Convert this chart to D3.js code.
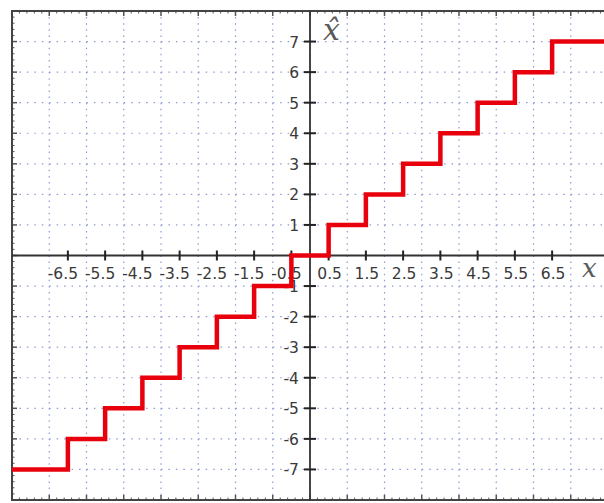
<!DOCTYPE html>
<html><head><meta charset="utf-8">
<script src="https://cdn.jsdelivr.net/npm/d3@7/dist/d3.min.js"></script>
<style>body{margin:0;background:#fff}svg{display:block}</style></head>
<body><svg id="c" width="604" height="503"></svg>
<script>
// ---- data ----
const xTickValues = [-6.5,-5.5,-4.5,-3.5,-2.5,-1.5,-0.5,0.5,1.5,2.5,3.5,4.5,5.5,6.5];
const xTickLabels = ["-6.5","-5.5","-4.5","-3.5","-2.5","-1.5","-0.5","0.5","1.5","2.5","3.5","4.5","5.5","6.5"];
const yTickValues = [-7,-6,-5,-4,-3,-2,-1,1,2,3,4,5,6,7];
const yTickLabels = ["-7","-6","-5","-4","-3","-2","-1","1","2","3","4","5","6","7"];
const gridValues = [-7,-6,-5,-4,-3,-2,-1,0,1,2,3,4,5,6,7];
const stepStarts = [-8,-6.5,-5.5,-4.5,-3.5,-2.5,-1.5,-0.5,0.5,1.5,2.5,3.5,4.5,5.5,6.5];
const stepLevels = [-7,-6,-5,-4,-3,-2,-1,0,1,2,3,4,5,6,7];
const domainEnd = 8;

const svg = d3.select("#c");
const x = d3.scaleLinear().domain([-8, 8]).range([12, 608]);
const y = d3.scaleLinear().domain([-8, 8]).range([500, 11]);
const ux = x(1) - x(0), uy = y(0) - y(1);

// grid
const g = svg.append("g");
g.selectAll(".vg").data(gridValues).enter().append("line")
  .attr("x1", d => x(d)).attr("x2", d => x(d)).attr("y1", y(8)).attr("y2", y(-8))
  .attr("stroke", "#8e9ad6").attr("stroke-width", 1.2)
  .attr("stroke-dasharray", `1.5,${(uy/5 - 1.5).toFixed(2)}`);
g.selectAll(".hg").data(gridValues).enter().append("line")
  .attr("y1", d => y(d)).attr("y2", d => y(d)).attr("x1", x(-8)).attr("x2", x(8))
  .attr("stroke", "#8e9ad6").attr("stroke-width", 1.2)
  .attr("stroke-dasharray", `1.5,${(ux/5 - 1.5).toFixed(2)}`);

// frame ticks
const minor = d3.range(-40, 41).map(i => i / 5);
const isMajor = v => Math.abs(v - Math.round(v)) < 1e-6;
const ft = svg.append("g").attr("stroke", "#555");
ft.selectAll(".tt").data(minor).enter().append("line")
  .attr("x1", d => x(d)).attr("x2", d => x(d)).attr("y1", y(8)).attr("y2", d => y(8) + (isMajor(d) ? 5 : 2.5))
  .attr("stroke-width", d => isMajor(d) ? 1.5 : 1);
ft.selectAll(".bt").data(minor).enter().append("line")
  .attr("x1", d => x(d)).attr("x2", d => x(d)).attr("y1", y(-8)).attr("y2", d => y(-8) - (isMajor(d) ? 5 : 2.5))
  .attr("stroke-width", d => isMajor(d) ? 1.5 : 1);
ft.selectAll(".lt").data(minor).enter().append("line")
  .attr("y1", d => y(d)).attr("y2", d => y(d)).attr("x1", x(-8)).attr("x2", d => x(-8) + (isMajor(d) ? 5 : 2.5))
  .attr("stroke-width", d => isMajor(d) ? 1.5 : 1);

// frame
svg.append("rect").attr("x", x(-8)).attr("y", y(8)).attr("width", x(8) - x(-8)).attr("height", y(-8) - y(8))
  .attr("fill", "none").attr("stroke", "#444").attr("stroke-width", 2);

// axes lines
svg.append("line").attr("x1", x(-8)).attr("x2", x(8)).attr("y1", y(0)).attr("y2", y(0))
  .attr("stroke", "#333").attr("stroke-width", 1.8);
svg.append("line").attr("x1", x(0)).attr("x2", x(0)).attr("y1", y(8)).attr("y2", y(-8))
  .attr("stroke", "#333").attr("stroke-width", 1.8);

// x axis ticks and labels
const xa = svg.append("g");
xa.selectAll("line").data(xTickValues).enter().append("line")
  .attr("x1", d => x(d)).attr("x2", d => x(d)).attr("y1", y(0) - 5).attr("y2", y(0) + 5)
  .attr("stroke", "#222").attr("stroke-width", 2);
xa.selectAll("text").data(xTickValues).enter().append("text")
  .attr("x", d => x(d) + (d < 0 ? -5 : 1)).attr("y", y(0) + 23)
  .attr("text-anchor", "middle").attr("font-family", "DejaVu Sans, sans-serif")
  .attr("font-size", 15.5).attr("fill", "#3a3a3a")
  .text((d, i) => xTickLabels[i]);

// y axis ticks and labels
const ya = svg.append("g");
ya.selectAll("line").data(yTickValues).enter().append("line")
  .attr("y1", d => y(d)).attr("y2", d => y(d)).attr("x1", x(0) - 6).attr("x2", x(0) + 6)
  .attr("stroke", "#222").attr("stroke-width", 2);
ya.selectAll("text").data(yTickValues).enter().append("text")
  .attr("x", x(0) - 11).attr("y", d => y(d) + 6)
  .attr("text-anchor", "end").attr("font-family", "DejaVu Sans, sans-serif")
  .attr("font-size", 15.5).attr("fill", "#3a3a3a")
  .text((d, i) => yTickLabels[i]);

// axis titles
svg.append("text").attr("x", x(0) + 13).attr("y", 40)
  .attr("font-family", "DejaVu Serif, serif").attr("font-style", "italic").attr("font-size", 30)
  .attr("fill", "#5a5a5a").text("x\u0302");
svg.append("text").attr("x", 582).attr("y", y(0) + 21)
  .attr("font-family", "DejaVu Serif, serif").attr("font-style", "italic").attr("font-size", 26)
  .attr("fill", "#5a5a5a").text("x");

// staircase
const pts = stepStarts.map((s, i) => [s, stepLevels[i]]);
pts.push([domainEnd, stepLevels[stepLevels.length - 1]]);
const line = d3.line().x(d => x(d[0])).y(d => y(d[1])).curve(d3.curveStepAfter);
svg.append("path").datum(pts).attr("d", line)
  .attr("fill", "none").attr("stroke", "#e8000c").attr("stroke-width", 4.5)
  .attr("stroke-linejoin", "miter");
</script></body></html>
